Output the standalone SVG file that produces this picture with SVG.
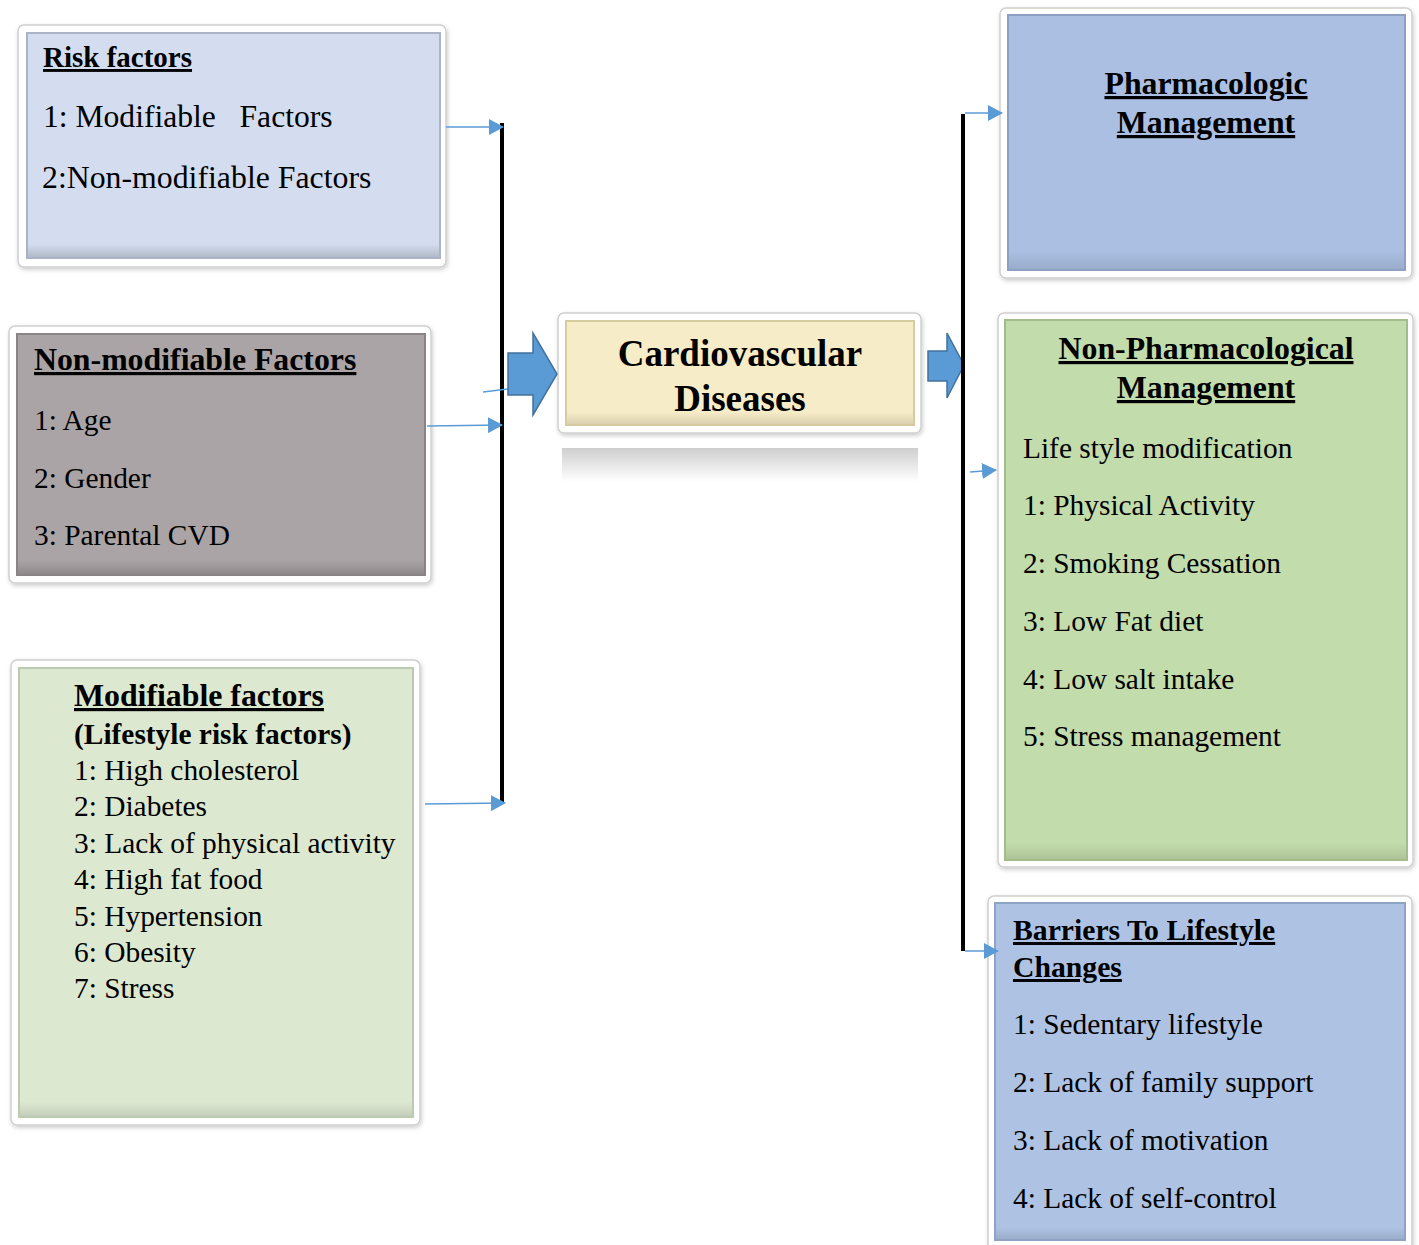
<svg xmlns="http://www.w3.org/2000/svg" width="1419" height="1245" viewBox="0 0 1419 1245">
<defs>
<style>
.frame{fill:#ffffff;stroke:#cfcfcf;stroke-width:1.5}
.t{font-family:"Liberation Serif","Times New Roman",serif;fill:#000}
.r{font-size:29.4px}
.b{font-weight:bold}
.u{text-decoration:underline}
.conn{stroke:#5b9bd5;stroke-width:1.5;fill:none}
.bar{stroke:#000;stroke-width:4;fill:none}
.blk{fill:#5b9bd5;stroke:#41719c;stroke-width:1.5}
</style>
<marker id="ah" markerWidth="16" markerHeight="16" refX="14" refY="8" orient="auto" markerUnits="userSpaceOnUse">
<path d="M0,0 L15,8 L0,16 Z" fill="#5b9bd5"/>
</marker>
<linearGradient id="bev" x1="0" y1="0" x2="0" y2="1">
<stop offset="0" stop-color="#000" stop-opacity="0"/>
<stop offset="1" stop-color="#000" stop-opacity="0.16"/>
</linearGradient>
<linearGradient id="refl" x1="0" y1="0" x2="0" y2="1">
<stop offset="0" stop-color="#cfcfcf"/>
<stop offset="1" stop-color="#ffffff"/>
</linearGradient>
<filter id="sh" x="-5%" y="-5%" width="110%" height="110%">
<feDropShadow dx="1" dy="2" stdDeviation="2" flood-color="#000" flood-opacity="0.2"/>
</filter>
</defs>

<g id="risk-factors">
<rect class="frame" x="18" y="25" width="428" height="242" rx="6" filter="url(#sh)"/>
<rect x="27" y="33" width="413" height="225" fill="#d3ddef" stroke="#aab4c8" stroke-width="2"/>
<rect x="28" y="244" width="411" height="13" fill="url(#bev)"/>
<text class="t b u" x="43" y="67" font-size="29">Risk factors</text>
<text class="t" x="43" y="127" font-size="31.6" style="white-space:pre">1: Modifiable   Factors</text>
<text class="t" x="42" y="188" font-size="31.8">2:Non-modifiable Factors</text>
</g>

<g id="non-modifiable">
<rect class="frame" x="9" y="326" width="422" height="257" rx="6" filter="url(#sh)"/>
<rect x="17" y="334" width="408" height="241" fill="#aaa4a6" stroke="#8a8486" stroke-width="2"/>
<rect x="18" y="560" width="406" height="14" fill="url(#bev)"/>
<text class="t b u" x="34" y="370" font-size="31.8">Non-modifiable Factors</text>
<text class="t r" x="34" y="430">1: Age</text>
<text class="t r" x="34" y="488">2: Gender</text>
<text class="t r" x="34" y="545">3: Parental CVD</text>
</g>

<g id="modifiable">
<rect class="frame" x="11" y="660" width="409" height="465" rx="6" filter="url(#sh)"/>
<rect x="19" y="668" width="394" height="449" fill="#dde8d1" stroke="#bccab0" stroke-width="2"/>
<rect x="20" y="1102" width="392" height="14" fill="url(#bev)" opacity="0.7"/>
<text class="t b u" x="74" y="706" font-size="31.8">Modifiable factors</text>
<text class="t b" x="74" y="744" font-size="29.4">(Lifestyle risk factors)</text>
<text class="t r" x="74" y="780">1: High cholesterol</text>
<text class="t r" x="74" y="816">2: Diabetes</text>
<text class="t r" x="74" y="853">3: Lack of physical activity</text>
<text class="t r" x="74" y="889">4: High fat food</text>
<text class="t r" x="74" y="926">5: Hypertension</text>
<text class="t r" x="74" y="962">6: Obesity</text>
<text class="t r" x="74" y="998">7: Stress</text>
</g>

<g id="cvd">
<rect x="562" y="448" width="356" height="34" fill="url(#refl)"/>
<rect class="frame" x="558" y="313" width="363" height="120" rx="6" filter="url(#sh)"/>
<rect x="566" y="321" width="348" height="104" fill="#f6ecc8" stroke="#d6caa0" stroke-width="2"/>
<rect x="567" y="412" width="346" height="12" fill="url(#bev)" opacity="0.7"/>
<text class="t b" x="740" y="366" font-size="37" text-anchor="middle">Cardiovascular</text>
<text class="t b" x="740" y="411" font-size="37" text-anchor="middle">Diseases</text>
</g>

<g id="pharmacologic">
<rect class="frame" x="1000" y="8" width="412" height="270" rx="6" filter="url(#sh)"/>
<rect x="1008" y="15" width="397" height="255" fill="#aabfe2" stroke="#8da0c4" stroke-width="2"/>
<rect x="1009" y="250" width="395" height="19" fill="url(#bev)" opacity="0.6"/>
<text class="t b u" x="1206" y="94" font-size="31.8" text-anchor="middle">Pharmacologic</text>
<text class="t b u" x="1206" y="133" font-size="31.8" text-anchor="middle">Management</text>
</g>

<g id="non-pharmacological">
<rect class="frame" x="998" y="313" width="415" height="554" rx="6" filter="url(#sh)"/>
<rect x="1005" y="320" width="402" height="540" fill="#c3dcab" stroke="#a3bc8c" stroke-width="2"/>
<rect x="1006" y="843" width="400" height="16" fill="url(#bev)" opacity="0.7"/>
<text class="t b u" x="1206" y="359" font-size="31.8" text-anchor="middle">Non-Pharmacological</text>
<text class="t b u" x="1206" y="398" font-size="31.8" text-anchor="middle">Management</text>
<text class="t r" x="1023" y="458">Life style modification</text>
<text class="t r" x="1023" y="515">1: Physical Activity</text>
<text class="t r" x="1023" y="573">2: Smoking Cessation</text>
<text class="t r" x="1023" y="631">3: Low Fat diet</text>
<text class="t r" x="1023" y="689">4: Low salt intake</text>
<text class="t r" x="1023" y="746">5: Stress management</text>
</g>

<g id="barriers">
<rect class="frame" x="988" y="896" width="424" height="355" rx="6" filter="url(#sh)"/>
<rect x="995" y="903" width="410" height="337" fill="#aec3e4" stroke="#8fa3c6" stroke-width="2"/>
<rect x="996" y="1227" width="408" height="12" fill="url(#bev)" opacity="0.7"/>
<text class="t b u" x="1013" y="940" font-size="29.7">Barriers To Lifestyle</text>
<text class="t b u" x="1013" y="977" font-size="29.7">Changes</text>
<text class="t r" x="1013" y="1034">1: Sedentary lifestyle</text>
<text class="t r" x="1013" y="1092">2: Lack of family support</text>
<text class="t r" x="1013" y="1150">3: Lack of motivation</text>
<text class="t r" x="1013" y="1208">4: Lack of self-control</text>
</g>

<g id="connectors">
<line class="bar" x1="502" y1="123" x2="502" y2="803"/>
<line class="conn" x1="446" y1="127" x2="503" y2="127" marker-end="url(#ah)"/>
<line class="conn" x1="427" y1="426" x2="502" y2="425" marker-end="url(#ah)"/>
<line class="conn" x1="425" y1="804" x2="505" y2="803" marker-end="url(#ah)"/>
<line class="conn" x1="483" y1="392" x2="508" y2="389"/>
<path class="blk" d="M508,353 L533,353 L533,333 L557,374 L533,415 L533,395 L508,395 Z"/>
<path class="blk" d="M928,351 L947,351 L947,333 L964,365 L947,398 L947,381 L928,381 Z"/>
<line class="bar" x1="963" y1="114" x2="963" y2="951"/>
<line class="conn" x1="965" y1="113" x2="1002" y2="113" marker-end="url(#ah)"/>
<line class="conn" x1="970" y1="472" x2="996" y2="470" marker-end="url(#ah)"/>
<line class="conn" x1="965" y1="951" x2="998" y2="951" marker-end="url(#ah)"/>
</g>
</svg>
